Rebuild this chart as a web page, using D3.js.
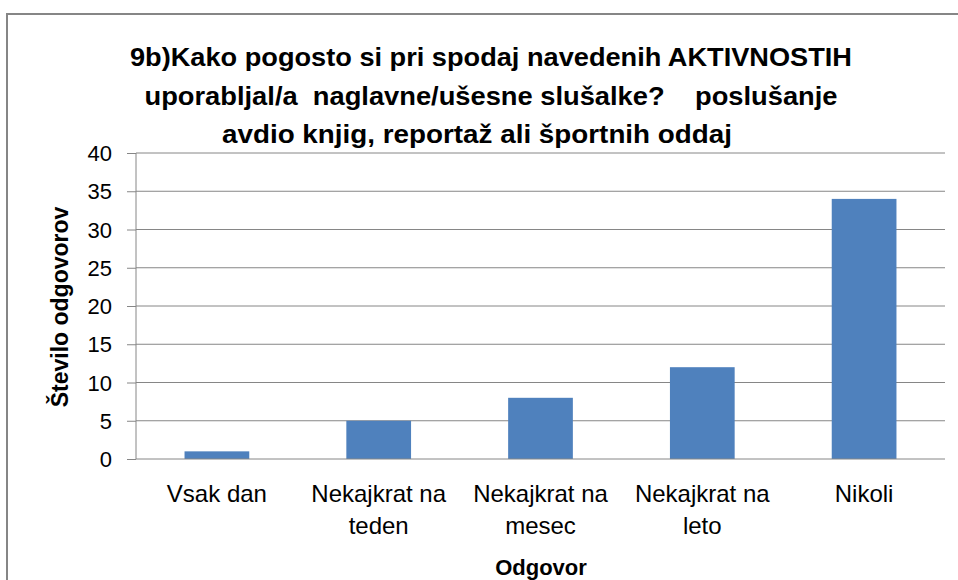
<!DOCTYPE html>
<meta charset="utf-8">
<script src="https://d3js.org/d3.v7.min.js"></script>
<style>
  body { margin: 0; background: #fff; }
  text { font-family: "Liberation Sans", sans-serif; fill: #000; }
</style>
<body>
<svg width="958" height="580"></svg>
<script>
    // chart data
    var categories = ["Vsak dan", "Nekajkrat na teden", "Nekajkrat na mesec", "Nekajkrat na leto", "Nikoli"];
    var catLines   = [["Vsak dan"], ["Nekajkrat na", "teden"], ["Nekajkrat na", "mesec"], ["Nekajkrat na", "leto"], ["Nikoli"]];
    var values     = [1, 5, 8, 12, 34];
    var yTicks     = [0, 5, 10, 15, 20, 25, 30, 35, 40];
    var titleLines = ["9b)Kako pogosto si pri spodaj navedenih AKTIVNOSTIH",
                      "uporabljal/a  naglavne/ušesne slušalke?    poslušanje",
                      "avdio knjig, reportaž ali športnih oddaj"];
    var titleWidths = [722, 693, 510];

    var svg = d3.select("svg");
    var plot = {left: 136, right: 945, top: 153, bottom: 459};

    // outer chart frame
    svg.append("path")
        .attr("d", "M7,600 L7,14 L970,14")
        .attr("fill", "none").attr("stroke", "#868686").attr("stroke-width", 2);

    var x = d3.scaleBand().domain(categories).range([plot.left, plot.right]).paddingInner(0.6).paddingOuter(0.3);
    var y = d3.scaleLinear().domain([0, 40]).range([plot.bottom, plot.top]);

    // gridlines
    svg.append("g").selectAll("line").data(yTicks.filter(function(d){ return d > 0; }))
        .enter().append("line")
        .attr("x1", plot.left).attr("x2", plot.right)
        .attr("y1", function(d){ return y(d); }).attr("y2", function(d){ return y(d); })
        .attr("stroke", "#868686").attr("stroke-width", 1);

    // bars
    svg.append("g").selectAll("rect").data(values)
        .enter().append("rect")
        .attr("x", function(d, i){ return x(categories[i]); })
        .attr("width", x.bandwidth())
        .attr("y", function(d){ return y(d); })
        .attr("height", function(d){ return y(0) - y(d); })
        .attr("fill", "#4f81bd");

    // y axis
    var yAxis = svg.append("g").attr("transform", "translate(" + plot.left + ",0)")
        .call(d3.axisLeft(y).tickValues(yTicks).tickSize(9).tickPadding(15));
    yAxis.select(".domain").attr("stroke", "#868686").attr("d", "M0," + plot.top + "V" + plot.bottom);
    yAxis.selectAll(".tick line").attr("stroke", "#868686");
    yAxis.selectAll(".tick text")
        .style("font-family", "'Liberation Sans', sans-serif")
        .attr("font-size", 22).attr("fill", "#000").attr("dy", "0.35em");

    // x baseline
    svg.append("line").attr("x1", plot.left).attr("x2", plot.right)
        .attr("y1", y(0)).attr("y2", y(0)).attr("stroke", "#868686");

    // x labels
    var xl = svg.append("g").selectAll("text").data(catLines).enter().append("text")
        .attr("text-anchor", "middle")
        .attr("font-size", 24)
        .attr("x", function(d, i){ return x(categories[i]) + x.bandwidth() / 2; })
        .attr("y", 502);
    xl.selectAll("tspan").data(function(d){ return d; }).enter().append("tspan")
        .attr("x", function(){ return d3.select(this.parentNode).attr("x"); })
        .attr("dy", function(d, i){ return i === 0 ? 0 : 32; })
        .text(function(d){ return d; });

    // axis titles
    svg.append("text").attr("x", 541).attr("y", 575).attr("text-anchor", "middle")
        .attr("font-size", 22).attr("font-weight", "bold").text("Odgovor");
    svg.append("text").attr("transform", "translate(68,307) rotate(-90)").attr("text-anchor", "middle")
        .attr("font-size", 23).attr("font-weight", "bold").text("Število odgovorov");

    // title
    svg.append("g").selectAll("text").data(titleLines).enter().append("text")
        .attr("x", function(d, i){ return i === 2 ? 477 : 491; })
        .attr("y", function(d, i){ return 66 + i * 38.5; })
        .attr("text-anchor", "middle")
        .attr("font-size", 26).attr("font-weight", "bold")
        .attr("textLength", function(d, i){ return titleWidths[i]; })
        .attr("lengthAdjust", "spacingAndGlyphs")
        .style("white-space", "pre")
        .text(function(d){ return d; });
</script>
</body>
